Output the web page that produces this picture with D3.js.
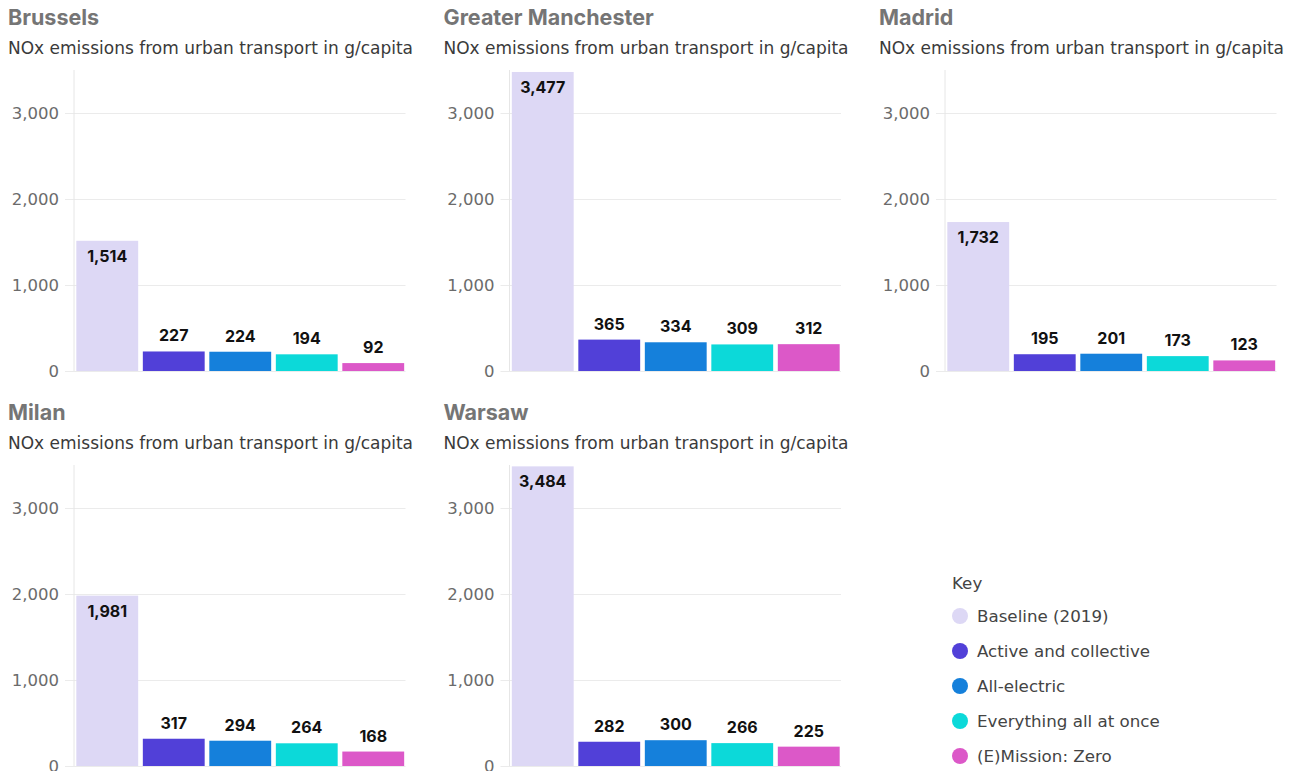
<!DOCTYPE html>
<meta charset="utf-8">
<style>
body { margin: 0; background: #fff; font-family: Inter, "Open Sans", sans-serif; }
.title { font-size: 21.5px; font-weight: 700; fill: #757575; }
.sub { font-family: "DejaVu Sans", sans-serif; font-size: 17px; fill: #3a3a3a; }
.tick text { font-family: "DejaVu Sans", sans-serif; font-size: 16.5px; fill: #6b6b6b; }
.val { font-size: 16px; font-weight: 700; fill: #111; }
.key { font-family: "DejaVu Sans", sans-serif; font-size: 16.7px; fill: #444; }
</style>
<body>
<script src="https://cdn.jsdelivr.net/npm/d3@7"></script>
<script>

var cities = ["Brussels", "Greater Manchester", "Madrid", "Milan", "Warsaw"];
var scenarios = ["Baseline (2019)", "Active and collective", "All-electric", "Everything all at once", "(E)Mission: Zero"];
var colors = ["#ddd8f5", "#5140d8", "#1580db", "#0cd9d9", "#dc58c8"];
var brussels = [1514, 227, 224, 194, 92];
var manchester = [3477, 365, 334, 309, 312];
var madrid = [1732, 195, 201, 173, 123];
var milan = [1981, 317, 294, 264, 168];
var warsaw = [3484, 282, 300, 266, 225];
var yTicks = [0, 1000, 2000, 3000];
var subtitle = "NOx emissions from urban transport in g/capita";

var values = [brussels, manchester, madrid, milan, warsaw];

var width = 1298, height = 771;
var svg = d3.select("body").append("svg")
  .attr("width", width)
  .attr("height", height);

var fmt = d3.format(",");
var panelW = 435.5, panelH = 395;
var margin = {top: 70, left: 75, right: 30, bottom: 24};

var x = d3.scaleBand().domain(scenarios)
  .range([margin.left, panelW - margin.right]).paddingInner(0.07).paddingOuter(0.02);
var y = d3.scaleLinear().domain([0, 3500])
  .range([panelH - margin.bottom, margin.top]);

cities.forEach(function(city, i) {
  var g = svg.append("g")
    .attr("transform", "translate(" + ((i % 3) * panelW) + "," + (Math.floor(i / 3) * panelH) + ")");

  g.append("text").attr("class", "title").attr("x", 8).attr("y", 25).text(city);
  g.append("text").attr("class", "sub").attr("x", 8).attr("y", 54).text(subtitle);

  var yAxis = d3.axisLeft(y).tickValues(yTicks).tickFormat(fmt)
    .tickSize(-(panelW - margin.right - margin.left + 10)).tickPadding(6);
  var ax = g.append("g").attr("transform", "translate(" + (margin.left - 10) + ",0)").call(yAxis);
  ax.select(".domain").remove();
  ax.selectAll(".tick line").attr("stroke", "#ebebeb");

  g.append("line")
    .attr("x1", margin.left - 1).attr("x2", margin.left - 1)
    .attr("y1", margin.top).attr("y2", y(0))
    .attr("stroke", "#e6e6e6");

  var data = values[i].map(function(v, j) { return {s: scenarios[j], v: v, c: colors[j]}; });

  g.selectAll("rect").data(data).enter().append("rect")
    .attr("x", function(d) { return x(d.s); })
    .attr("y", function(d) { return y(d.v); })
    .attr("width", x.bandwidth())
    .attr("height", function(d) { return y(0) - y(d.v); })
    .attr("fill", function(d) { return d.c; });

  g.selectAll(".val").data(data).enter().append("text")
    .attr("class", "val")
    .attr("text-anchor", "middle")
    .attr("x", function(d) { return x(d.s) + x.bandwidth() / 2; })
    .attr("y", function(d) {
      var big = (y(0) - y(d.v)) > 60;
      return big ? y(d.v) + 21 : y(d.v) - 10;
    })
    .text(function(d) { return fmt(d.v); });
});

// legend
var leg = svg.append("g").attr("transform", "translate(952,0)");
leg.append("text").attr("class", "key").attr("x", 0).attr("y", 589).text("Key");
scenarios.forEach(function(s, j) {
  var cy = 616 + j * 35;
  leg.append("circle").attr("cx", 8).attr("cy", cy).attr("r", 8).attr("fill", colors[j]);
  leg.append("text").attr("class", "key").attr("x", 25).attr("y", cy + 6).text(s);
});

</script>
</body>
